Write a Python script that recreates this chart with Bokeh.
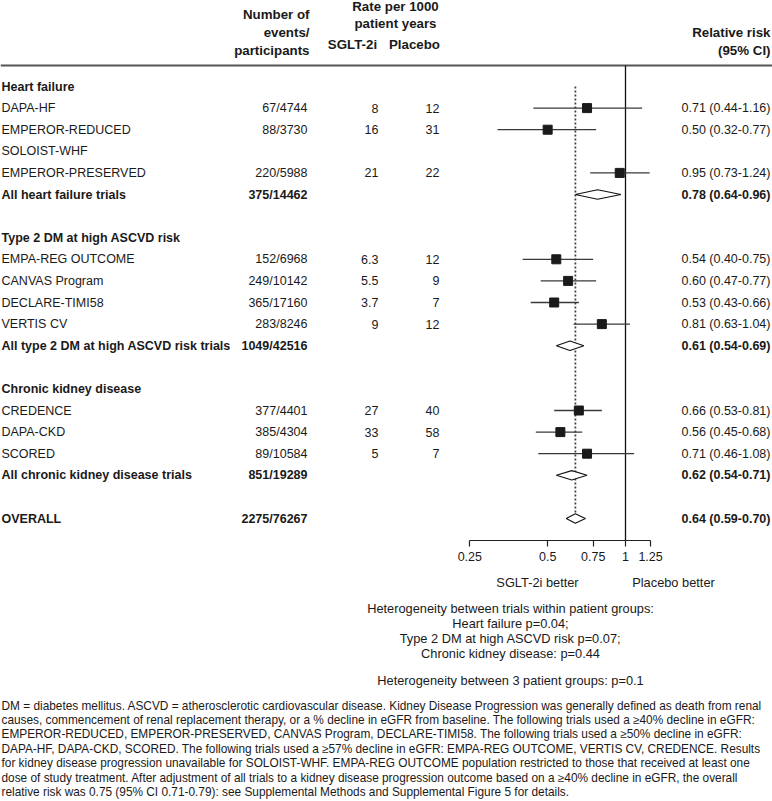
import math
import numpy as np
from bokeh.plotting import figure
from bokeh.models import (Range1d, LogScale, LogAxis, FixedTicker,
                          CustomJSTickFormatter, ColumnDataSource)
from bokeh.core.properties import value, field
from bokeh.embed import file_html
from bokeh.resources import INLINE

# ---------------- data ----------------
labels = ["Heart failure", "DAPA-HF", "EMPEROR-REDUCED", "SOLOIST-WHF", "EMPEROR-PRESERVED",
          "All heart failure trials", "",
          "Type 2 DM at high ASCVD risk", "EMPA-REG OUTCOME", "CANVAS Program", "DECLARE-TIMI58",
          "VERTIS CV", "All type 2 DM at high ASCVD risk trials", "",
          "Chronic kidney disease", "CREDENCE", "DAPA-CKD", "SCORED",
          "All chronic kidney disease trials", "",
          "OVERALL"]
kinds = ["group", "trial", "trial", "trial", "trial", "summary", "gap",
         "group", "trial", "trial", "trial", "trial", "summary", "gap",
         "group", "trial", "trial", "trial", "summary", "gap",
         "summary"]
events = ["", "67/4744", "88/3730", "", "220/5988", "375/14462", "",
          "", "152/6968", "249/10142", "365/17160", "283/8246", "1049/42516", "",
          "", "377/4401", "385/4304", "89/10584", "851/19289", "",
          "2275/76267"]
rate_sglt2i = ["", "8", "16", "", "21", "", "",
               "", "6.3", "5.5", "3.7", "9", "", "",
               "", "27", "33", "5", "", "",
               ""]
rate_placebo = ["", "12", "31", "", "22", "", "",
                "", "12", "9", "7", "12", "", "",
                "", "40", "58", "7", "", "",
                ""]
nan = float("nan")
rr = [nan, 0.71, 0.50, nan, 0.95, 0.78, nan,
      nan, 0.54, 0.60, 0.53, 0.81, 0.61, nan,
      nan, 0.66, 0.56, 0.71, 0.62, nan,
      0.64]
rr_low = [nan, 0.44, 0.32, nan, 0.73, 0.64, nan,
          nan, 0.40, 0.47, 0.43, 0.63, 0.54, nan,
          nan, 0.53, 0.45, 0.46, 0.54, nan,
          0.59]
rr_high = [nan, 1.16, 0.77, nan, 1.24, 0.96, nan,
           nan, 0.75, 0.77, 0.66, 1.04, 0.69, nan,
           nan, 0.81, 0.68, 1.08, 0.71, nan,
           0.70]

tick_values = [0.25, 0.5, 0.75, 1, 1.25]

header_events = ["Number of", "events/", "participants"]
header_rate = ["Rate per 1000", "patient years"]
header_arms = ["SGLT-2i", "Placebo"]
header_rr = ["Relative risk", "(95% CI)"]
favours = ["SGLT-2i better", "Placebo better"]
heterogeneity = ["Heterogeneity between trials within patient groups:",
                 "Heart failure p=0.04;",
                 "Type 2 DM at high ASCVD risk p=0.07;",
                 "Chronic kidney disease: p=0.44"]
heterogeneity_groups = "Heterogeneity between 3 patient groups: p=0.1"
footnote = [
    "DM = diabetes mellitus. ASCVD = atherosclerotic cardiovascular disease. Kidney Disease Progression was generally defined as death from renal",
    "causes, commencement of renal replacement therapy, or a % decline in eGFR from baseline. The following trials used a \u226540% decline in eGFR:",
    "EMPEROR-REDUCED, EMPEROR-PRESERVED, CANVAS Program, DECLARE-TIMI58. The following trials used a \u226550% decline in eGFR:",
    "DAPA-HF, DAPA-CKD, SCORED. The following trials used a \u226557% decline in eGFR: EMPA-REG OUTCOME, VERTIS CV, CREDENCE. Results",
    "for kidney disease progression unavailable for SOLOIST-WHF. EMPA-REG OUTCOME population restricted to those that received at least one",
    "dose of study treatment. After adjustment of all trials to a kidney disease progression outcome based on a \u226540% decline in eGFR, the overall",
    "relative risk was 0.75 (95% CI 0.71-0.79): see Supplemental Methods and Supplemental Figure 5 for details.",
]

# ---------------- layout constants (pixel space) ----------------
W_REF, H_REF = 772, 801
W, H = 772, 801
FONT = "Liberation Sans"
FS = "12.5px"
HFS = "13.3px"
BFS = "12.8px"
FNS = "11.85px"
TXT = "#1a1a1a"

ROW0, ROW_STEP = 86.0, 21.6
X_ONE = 625.0
PX_PER_LN = (625.0 - 469.3) / math.log(4)
rr_start = math.exp(-X_ONE / PX_PER_LN)
rr_end = math.exp((W_REF - X_ONE) / PX_PER_LN)
AXIS_Y = 540
HEADER_LINE_Y = 65
DIAMOND_HALF = 4.7

p = figure(width=W, height=H, x_range=Range1d(0, W_REF), y_range=Range1d(H_REF, 0),
           output_backend="svg", toolbar_location=None,
           x_axis_location=None, y_axis_location=None, min_border=0,
           outline_line_color=None, background_fill_color="white",
           border_fill_color="white")
p.grid.visible = False
p.extra_x_ranges = {"rr": Range1d(rr_start, rr_end)}
p.extra_x_scales = {"rr": LogScale()}

n = len(labels)
ys = [ROW0 + ROW_STEP * i for i in range(n)]
label_style = ["bold" if k in ("group", "summary") else "normal" for k in kinds]
num_style = ["bold" if k == "summary" else "normal" for k in kinds]
rr_text = ["" if math.isnan(r) else f"{r:.2f} ({lo:.2f}-{hi:.2f})"
           for r, lo, hi in zip(rr, rr_low, rr_high)]

src = ColumnDataSource(dict(y=ys, label=labels, events=events, s=rate_sglt2i, pl=rate_placebo,
                            rrt=rr_text, lstyle=label_style, nstyle=num_style))

common = dict(source=src, y="y", text_font=value(FONT), text_font_size=value(FS),
              text_color=TXT, text_baseline="middle")
p.text(x=1, text="label", text_align="left", text_font_style=field("lstyle"), **common)
p.text(x=307, text="events", text_align="right", text_font_style=field("nstyle"), **common)
p.text(x=378, text="s", text_align="right", **common)
p.text(x=439, text="pl", text_align="right", **common)
p.text(x=681, text="rrt", text_align="left", text_font_style=field("nstyle"), **common)

# header
hcommon = dict(text_font=value(FONT), text_font_size=value(HFS), text_color=TXT,
               text_baseline="middle", text_font_style="bold")
p.text(x=[309] * 3, y=[14, 32, 50], text=header_events, text_align="right", **hcommon)
p.text(x=[395] * 2, y=[6, 23], text=header_rate, text_align="center", **hcommon)
p.text(x=[352, 414], y=[44, 44], text=header_arms, text_align="center", **hcommon)
p.text(x=[770] * 2, y=[32, 50], text=header_rr, text_align="right", **hcommon)
p.segment(x0=[0], x1=[W_REF], y0=[HEADER_LINE_Y], y1=[HEADER_LINE_Y], line_color="#555555",
          line_width=2)

# forest marks
trial_idx = [i for i in range(n) if kinds[i] == "trial" and not math.isnan(rr[i])]
sum_idx = [i for i in range(n) if kinds[i] == "summary"]
tsrc = ColumnDataSource(dict(y=[ys[i] for i in trial_idx], rr=[rr[i] for i in trial_idx],
                             lo=[rr_low[i] for i in trial_idx], hi=[rr_high[i] for i in trial_idx]))

# reference line at 1 and dotted line at overall estimate
p.segment(x0=[1], x1=[1], y0=[HEADER_LINE_Y], y1=[AXIS_Y], x_range_name="rr",
          line_color="#111111", line_width=1.3)
overall = rr[-1]
p.segment(x0=[overall], x1=[overall], y0=[ROW0], y1=[ys[-1] - DIAMOND_HALF], x_range_name="rr",
          line_color="#444444", line_width=1.8, line_dash="2 2")

p.segment(x0="lo", x1="hi", y0="y", y1="y", source=tsrc, x_range_name="rr",
          line_color="#3a3a3a", line_width=1.3)
p.scatter(x="rr", y="y", source=tsrc, x_range_name="rr", marker="square", size=9,
          fill_color="#1a1a1a", line_color="#1a1a1a")

dsrc = ColumnDataSource(dict(
    xs=[[rr_low[i], rr[i], rr_high[i], rr[i]] for i in sum_idx],
    ys=[[ys[i], ys[i] - DIAMOND_HALF, ys[i], ys[i] + DIAMOND_HALF] for i in sum_idx]))
p.patches(xs="xs", ys="ys", source=dsrc, x_range_name="rr", fill_color="white",
          line_color="#111111", line_width=1.1)

# axis
ax = LogAxis(x_range_name="rr", ticker=FixedTicker(ticks=tick_values, minor_ticks=[]),
             formatter=CustomJSTickFormatter(code="return tick.toString()"),
             bounds=(tick_values[0], tick_values[-1]), fixed_location=AXIS_Y)
ax.axis_line_color = "#222222"
ax.axis_line_width = 1.2
ax.major_tick_line_color = "#222222"
ax.major_tick_line_width = 1.2
ax.major_tick_out = 6
ax.major_tick_in = 0
ax.minor_tick_out = 0
ax.minor_tick_in = 0
ax.major_label_standoff = 5
ax.major_label_text_font = FONT
ax.major_label_text_font_size = FS
ax.major_label_text_color = TXT
p.add_layout(ax, "below")

# bottom texts
bcommon = dict(text_font=value(FONT), text_font_size=value(BFS), text_color=TXT,
               text_baseline="middle")
p.text(x=[537, 673], y=[582, 582], text=favours, text_align="center", **bcommon)
p.text(x=[510] * len(heterogeneity), y=[608 + 15 * i for i in range(len(heterogeneity))],
       text=heterogeneity, text_align="center", **bcommon)
p.text(x=[510], y=[680], text=[heterogeneity_groups], text_align="center", **bcommon)
p.text(x=[1] * len(footnote), y=[705 + 14.4 * i for i in range(len(footnote))], text=footnote,
       text_align="left", text_font=value(FONT), text_font_size=value(FNS),
       text_color=TXT, text_baseline="middle")

open("out.html", "w").write(file_html(p, INLINE))
